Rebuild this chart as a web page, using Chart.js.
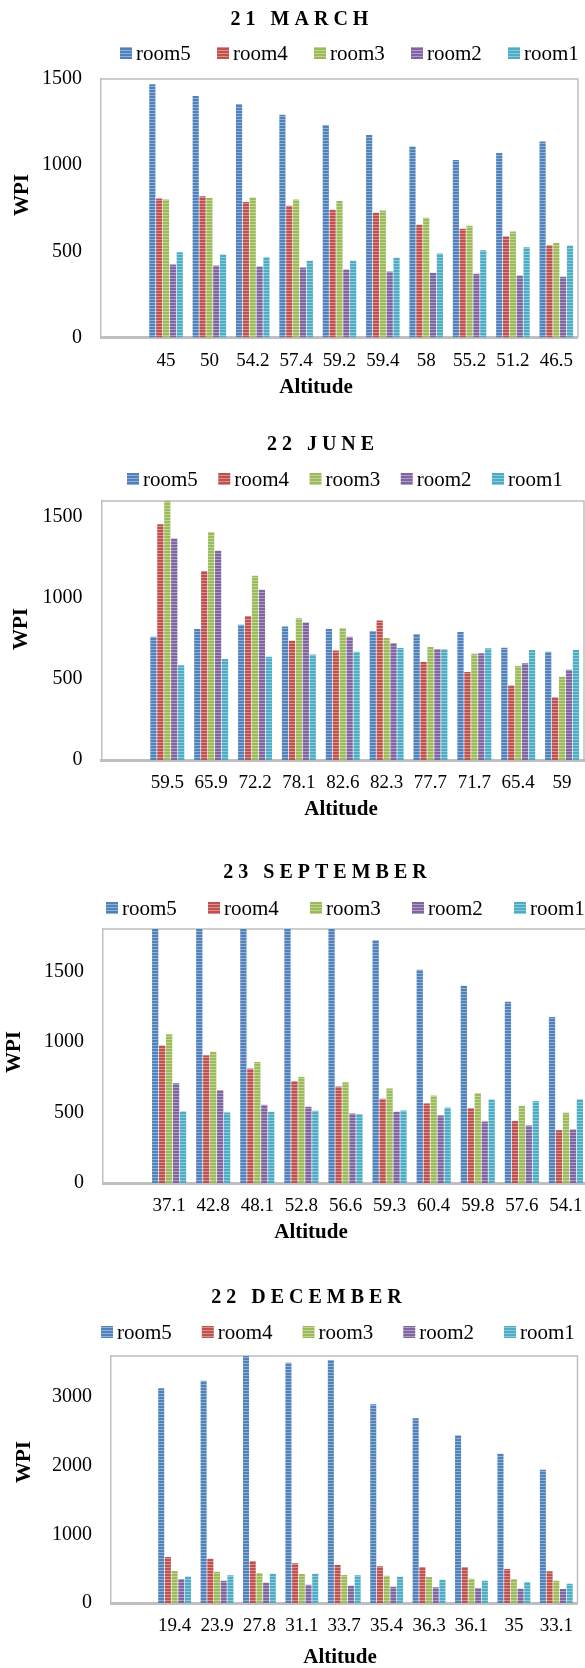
<!DOCTYPE html>
<html>
<head>
<meta charset="utf-8">
<title>WPI by altitude</title>
<script src="https://cdn.jsdelivr.net/npm/chart.js@4/dist/chart.umd.min.js"></script>
<style>
  html, body { margin: 0; padding: 0; background: #fff; overflow: hidden; }
  body { position: relative; width: 585px; height: 1668px; }
  canvas { position: absolute; left: 0; }
</style>
</head>
<body>
<canvas id="march"></canvas>
<canvas id="june"></canvas>
<canvas id="september"></canvas>
<canvas id="december"></canvas>
<script>
// ---- data ----
const seriesNames = ['room5', 'room4', 'room3', 'room2', 'room1'];

const marchAltitude = ['45', '50', '54.2', '57.4', '59.2', '59.4', '58', '55.2', '51.2', '46.5'];
const marchRoom5 = [1469, 1401, 1355, 1293, 1233, 1175, 1109, 1030, 1070, 1138];
const marchRoom4 = [807, 819, 786, 765, 741, 724, 654, 631, 588, 536];
const marchRoom3 = [801, 809, 813, 801, 792, 737, 695, 648, 615, 548];
const marchRoom2 = [424, 418, 412, 406, 395, 383, 375, 370, 360, 352];
const marchRoom1 = [494, 482, 466, 445, 445, 463, 488, 507, 523, 534];
const marchTicks = [0, 500, 1000, 1500];

const juneAltitude = ['59.5', '65.9', '72.2', '78.1', '82.6', '82.3', '77.7', '71.7', '65.4', '59'];
const juneRoom5 = [762, 810, 835, 824, 810, 797, 779, 791, 694, 669];
const juneRoom4 = [1457, 1167, 890, 736, 676, 862, 605, 543, 461, 388];
const juneRoom3 = [1600, 1409, 1138, 876, 816, 754, 698, 657, 581, 514];
const juneRoom2 = [1368, 1293, 1052, 849, 762, 723, 686, 659, 597, 558];
const juneRoom1 = [585, 624, 638, 651, 669, 692, 684, 690, 680, 680];
const juneTicks = [0, 500, 1000, 1500];

const sepAltitude = ['37.1', '42.8', '48.1', '52.8', '56.6', '59.3', '60.4', '59.8', '57.6', '54.1'];
const sepRoom5 = [1800, 1800, 1800, 1800, 1800, 1721, 1511, 1398, 1285, 1177];
const sepRoom4 = [974, 905, 811, 722, 684, 597, 564, 531, 439, 375];
const sepRoom3 = [1054, 931, 858, 752, 714, 670, 620, 637, 547, 498];
const sepRoom2 = [707, 658, 554, 540, 493, 505, 479, 436, 408, 380];
const sepRoom1 = [507, 500, 505, 512, 488, 514, 535, 592, 580, 594];
const sepTicks = [0, 500, 1000, 1500];

const decAltitude = ['19.4', '23.9', '27.8', '31.1', '33.7', '35.4', '36.3', '36.1', '35', '33.1'];
const decRoom5 = [3131, 3238, 3600, 3500, 3543, 2898, 2694, 2446, 2175, 1942];
const decRoom4 = [670, 646, 612, 578, 553, 534, 524, 524, 495, 461];
const decRoom3 = [466, 456, 437, 422, 408, 398, 379, 354, 349, 325];
const decRoom2 = [350, 325, 296, 267, 252, 238, 228, 218, 209, 204];
const decRoom1 = [388, 403, 427, 427, 403, 383, 340, 325, 306, 282];
const decTicks = [0, 1000, 2000, 3000];

// ---- styling ----
const SERIF = '"Liberation Serif", "Times New Roman", serif';
const seriesColors = ['#4F81BD', '#C0504D', '#9BBB59', '#8064A2', '#4BACC6'];
const FRAME = '#bfbfbf';

// horizontal pin-stripe fill used by the bars and legend keys
function stripes(hex) {
  const c = document.createElement('canvas');
  c.width = 4; c.height = 3;
  const g = c.getContext('2d');
  g.fillStyle = hex;
  g.fillRect(0, 0, 4, 3);
  g.fillStyle = 'rgba(255,255,255,0.38)';
  g.fillRect(0, 2, 4, 1);
  return g.createPattern(c, 'repeat');
}
const seriesFills = seriesColors.map(stripes);

// title, legend, axis titles and plot frame
function decorations(s) {
  return {
    id: 'decor' + s.key,
    beforeDatasetsDraw(chart) {
      const {ctx, chartArea: a} = chart;
      ctx.save();
      ctx.strokeStyle = FRAME;
      ctx.lineWidth = 1.5;
      ctx.beginPath();
      ctx.moveTo(a.left, a.top);
      ctx.lineTo(a.right, a.top);
      ctx.lineTo(a.right, a.bottom);
      ctx.stroke();
      ctx.restore();
    },
    afterDraw(chart) {
      const ctx = chart.ctx;
      const oy = s.top;
      ctx.save();
      ctx.fillStyle = '#000';
      ctx.textBaseline = 'middle';

      // chart title, letter-spaced
      ctx.font = 'bold 20px ' + SERIF;
      ctx.textAlign = 'center';
      if ('letterSpacing' in ctx) ctx.letterSpacing = '5px';
      ctx.fillText(s.title, s.titleX, s.titleY - oy);
      if ('letterSpacing' in ctx) ctx.letterSpacing = '0px';

      // legend
      ctx.font = '21px ' + SERIF;
      ctx.textAlign = 'left';
      chart.data.datasets.forEach((ds, i) => {
        const x = s.legendX + i * s.legendStep;
        const y = s.legendY - oy;
        ctx.fillStyle = ds.backgroundColor;
        ctx.fillRect(x, y - 6, 12, 12);
        ctx.fillStyle = '#000';
        ctx.fillText(ds.label, x + 16, y + 1);
      });

      // axis titles
      ctx.font = 'bold 21px ' + SERIF;
      ctx.textAlign = 'center';
      ctx.fillText('Altitude', s.xTitleX, s.xTitleY - oy);
      ctx.translate(s.yTitleX, s.yTitleY - oy);
      ctx.rotate(-Math.PI / 2);
      ctx.fillText('WPI', 0, 0);
      ctx.restore();
    }
  };
}

function drawChart(s) {
  const canvas = document.getElementById(s.key);
  canvas.width = s.width;
  canvas.height = s.height;
  canvas.style.top = s.top + 'px';

  const xAxisHeight = 40;
  const values = [s.room5, s.room4, s.room3, s.room2, s.room1];
  const datasets = seriesNames.map((name, i) => ({
    label: name,
    data: [null].concat(values[i]),
    backgroundColor: seriesFills[i],
    borderWidth: 0
  }));

  new Chart(canvas, {
    type: 'bar',
    data: { labels: [''].concat(s.altitude), datasets },
    options: {
      responsive: false,
      animation: false,
      devicePixelRatio: 1,
      events: [],
      layout: {
        padding: {
          left: 0,
          top: s.plotTop - s.top,
          right: s.width - s.plotRight,
          bottom: (s.top + s.height) - (s.plotBottom + xAxisHeight)
        }
      },
      datasets: { bar: { categoryPercentage: 0.79, barPercentage: 0.9 } },
      plugins: {
        legend: { display: false },
        title: { display: false },
        tooltip: { enabled: false }
      },
      scales: {
        x: {
          grid: { display: false, drawTicks: false },
          border: { display: true, color: FRAME, width: 3 },
          ticks: {
            color: '#000',
            font: { family: SERIF, size: 19 },
            padding: 12,
            maxRotation: 0,
            autoSkip: false
          },
          afterFit(scale) { scale.height = xAxisHeight; }
        },
        y: {
          min: 0,
          max: s.yMax,
          grid: { display: false, drawTicks: false },
          border: { display: true, color: FRAME, width: 1.5 },
          ticks: {
            color: '#000',
            font: { family: SERIF, size: 20 },
            padding: 19,
            callback: (v) => String(v)
          },
          afterBuildTicks(scale) { scale.ticks = s.yTicks.map((v) => ({ value: v })); },
          afterFit(scale) { scale.width = s.plotLeft; }
        }
      }
    },
    plugins: [decorations(s)]
  });
}

const charts = [
  {
    key: 'march', title: '21 MARCH', top: 0, height: 410, width: 585,
    altitude: marchAltitude, room5: marchRoom5, room4: marchRoom4, room3: marchRoom3, room2: marchRoom2, room1: marchRoom1,
    yMax: 1500, yTicks: marchTicks,
    plotLeft: 101, plotRight: 583, plotTop: 79, plotBottom: 337.5,
    titleX: 302, titleY: 20, legendX: 120, legendStep: 97, legendY: 53,
    xTitleX: 316, xTitleY: 388, yTitleX: 23, yTitleY: 195
  },
  {
    key: 'june', title: '22 JUNE', top: 410, height: 420, width: 585,
    altitude: juneAltitude, room5: juneRoom5, room4: juneRoom4, room3: juneRoom3, room2: juneRoom2, room1: juneRoom1,
    yMax: 1600, yTicks: juneTicks,
    plotLeft: 101.5, plotRight: 584, plotTop: 501, plotBottom: 760,
    titleX: 323, titleY: 445, legendX: 127, legendStep: 91.25, legendY: 479,
    xTitleX: 341, xTitleY: 810, yTitleX: 22, yTitleY: 629
  },
  {
    key: 'september', title: '23 SEPTEMBER', top: 830, height: 420, width: 595,
    altitude: sepAltitude, room5: sepRoom5, room4: sepRoom4, room3: sepRoom3, room2: sepRoom2, room1: sepRoom1,
    yMax: 1800, yTicks: sepTicks,
    plotLeft: 103, plotRight: 588, plotTop: 929, plotBottom: 1183,
    titleX: 327.5, titleY: 873, legendX: 106, legendStep: 102, legendY: 908,
    xTitleX: 311, xTitleY: 1233, yTitleX: 15, yTitleY: 1052
  },
  {
    key: 'december', title: '22 DECEMBER', top: 1250, height: 418, width: 585,
    altitude: decAltitude, room5: decRoom5, room4: decRoom4, room3: decRoom3, room2: decRoom2, room1: decRoom1,
    yMax: 3600, yTicks: decTicks,
    plotLeft: 111, plotRight: 583, plotTop: 1356, plotBottom: 1603,
    titleX: 309, titleY: 1298, legendX: 101, legendStep: 100.75, legendY: 1332,
    xTitleX: 340, xTitleY: 1658, yTitleX: 25, yTitleY: 1462
  }
];

charts.forEach(drawChart);
</script>
</body>
</html>
